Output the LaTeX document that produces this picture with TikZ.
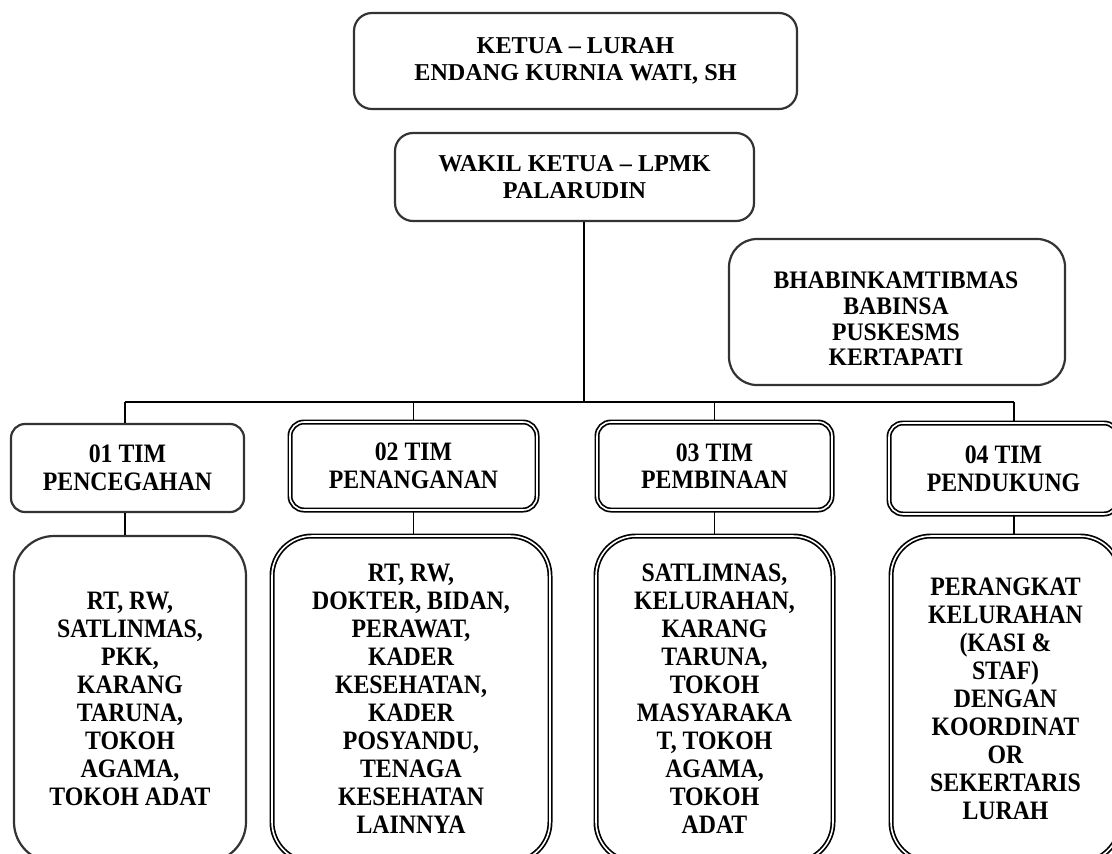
\documentclass[tikz,border=0pt]{standalone}
\usepackage{fontspec}
\setmainfont{Liberation Serif}
\newfontfamily\tallfont[FakeStretch=0.895]{Liberation Serif}
\newfontfamily\midfont[FakeStretch=0.94]{Liberation Serif}
\begin{document}
\begin{tikzpicture}[x=0.5pt,y=-0.5pt,
  txt/.style={align=center,inner sep=0pt,text=black},
  single/.style={draw=black!80,line width=1.1pt},
  dbl/.style={draw=black,double=white,double distance=0.8pt,line width=0.85pt},
  fbig/.style={font={\fontsize{12.1pt}{13.35pt}\selectfont\bfseries}},
  fbh/.style={font={\midfont\fontsize{12.6pt}{12.85pt}\selectfont\bfseries}},
  ftim/.style={font={\tallfont\fontsize{13.3pt}{13.8pt}\selectfont\bfseries}},
  fcont/.style={font={\tallfont\fontsize{13.3pt}{14pt}\selectfont\bfseries}},
  topbox/.style={txt,single,fbig,rounded corners=9pt},
  bhbox/.style={txt,single,fbh,rounded corners=14pt},
  timbox/.style={txt,ftim,rounded corners=7pt},
  contbox/.style={txt,fcont,rounded corners=20pt},
  conn/.style={draw=black,line width=0.8pt}
]
\useasboundingbox (0,0) rectangle (1112,853);
\clip (0,0) rectangle (1112,853);

\node[topbox,minimum width=221.5pt,minimum height=48pt] (ketua) at (575.5,61)
  {KETUA -- LURAH\\ENDANG KURNIA WATI, SH};
\node[topbox,minimum width=179.5pt,minimum height=44pt] (wakil) at (574.5,177)
  {WAKIL KETUA -- LPMK\\PALARUDIN};
\node[bhbox,minimum width=168pt,minimum height=73pt] (bhabin) at (897,312) {};
\node[txt,fbh] (bhabintxt) at (896,319)
  {BHABINKAMTIBMAS\\BABINSA\\PUSKESMS\\KERTAPATI};

\node[timbox,single,minimum width=116.5pt,minimum height=44pt] (tim1) at (127.5,468)
  {01 TIM\\PENCEGAHAN};
\node[timbox,dbl,minimum width=123.5pt,minimum height=44pt] (tim2) at (413.5,466)
  {02 TIM\\PENANGANAN};
\node[timbox,dbl,minimum width=117.5pt,minimum height=44pt] (tim3) at (714.5,466)
  {03 TIM\\PEMBINAAN};
\node[timbox,dbl,minimum width=114.5pt,minimum height=45.5pt] (tim4) at (1003.5,468.5)
  {04 TIM\\PENDUKUNG};

\node[contbox,single,minimum width=116pt,minimum height=163pt] (c1) at (130,699)
  {RT, RW,\\SATLINMAS,\\PKK,\\KARANG\\TARUNA,\\TOKOH\\AGAMA,\\TOKOH ADAT};
\node[contbox,dbl,minimum width=139pt,minimum height=163pt] (c2) at (411,699)
  {RT, RW,\\DOKTER, BIDAN,\\PERAWAT,\\KADER\\KESEHATAN,\\KADER\\POSYANDU,\\TENAGA\\KESEHATAN\\LAINNYA};
\node[contbox,dbl,minimum width=118.5pt,minimum height=163pt] (c3) at (714.5,699)
  {SATLIMNAS,\\KELURAHAN,\\KARANG\\TARUNA,\\TOKOH\\MASYARAKA\\T, TOKOH\\AGAMA,\\TOKOH\\ADAT};
\node[contbox,dbl,minimum width=114.5pt,minimum height=163pt] (c4) at (1005.5,699)
  {PERANGKAT\\KELURAHAN\\(KASI \&\\STAF)\\DENGAN\\KOORDINAT\\OR\\SEKERTARIS\\LURAH};

\coordinate (busL) at (125,402);
\coordinate (busR) at (1014,402);
\coordinate (drop) at (584,402);

\draw[conn] (drop |- wakil.south) -- (drop);
\draw[conn] (busL) -- (busR);
\draw[conn] (busL) -- (busL |- tim1.north);
\draw[conn] (tim2.north |- busL) -- (tim2.north);
\draw[conn] (tim3.north |- busL) -- (tim3.north);
\draw[conn] (busR) -- (busR |- tim4.north);
\draw[conn] (busL |- tim1.south) -- (busL |- c1.north);
\draw[conn] (tim2.south) -- (tim2.south |- c2.north);
\draw[conn] (tim3.south) -- (tim3.south |- c3.north);
\draw[conn] (busR |- tim4.south) -- (busR |- c4.north);
\end{tikzpicture}
\end{document}
